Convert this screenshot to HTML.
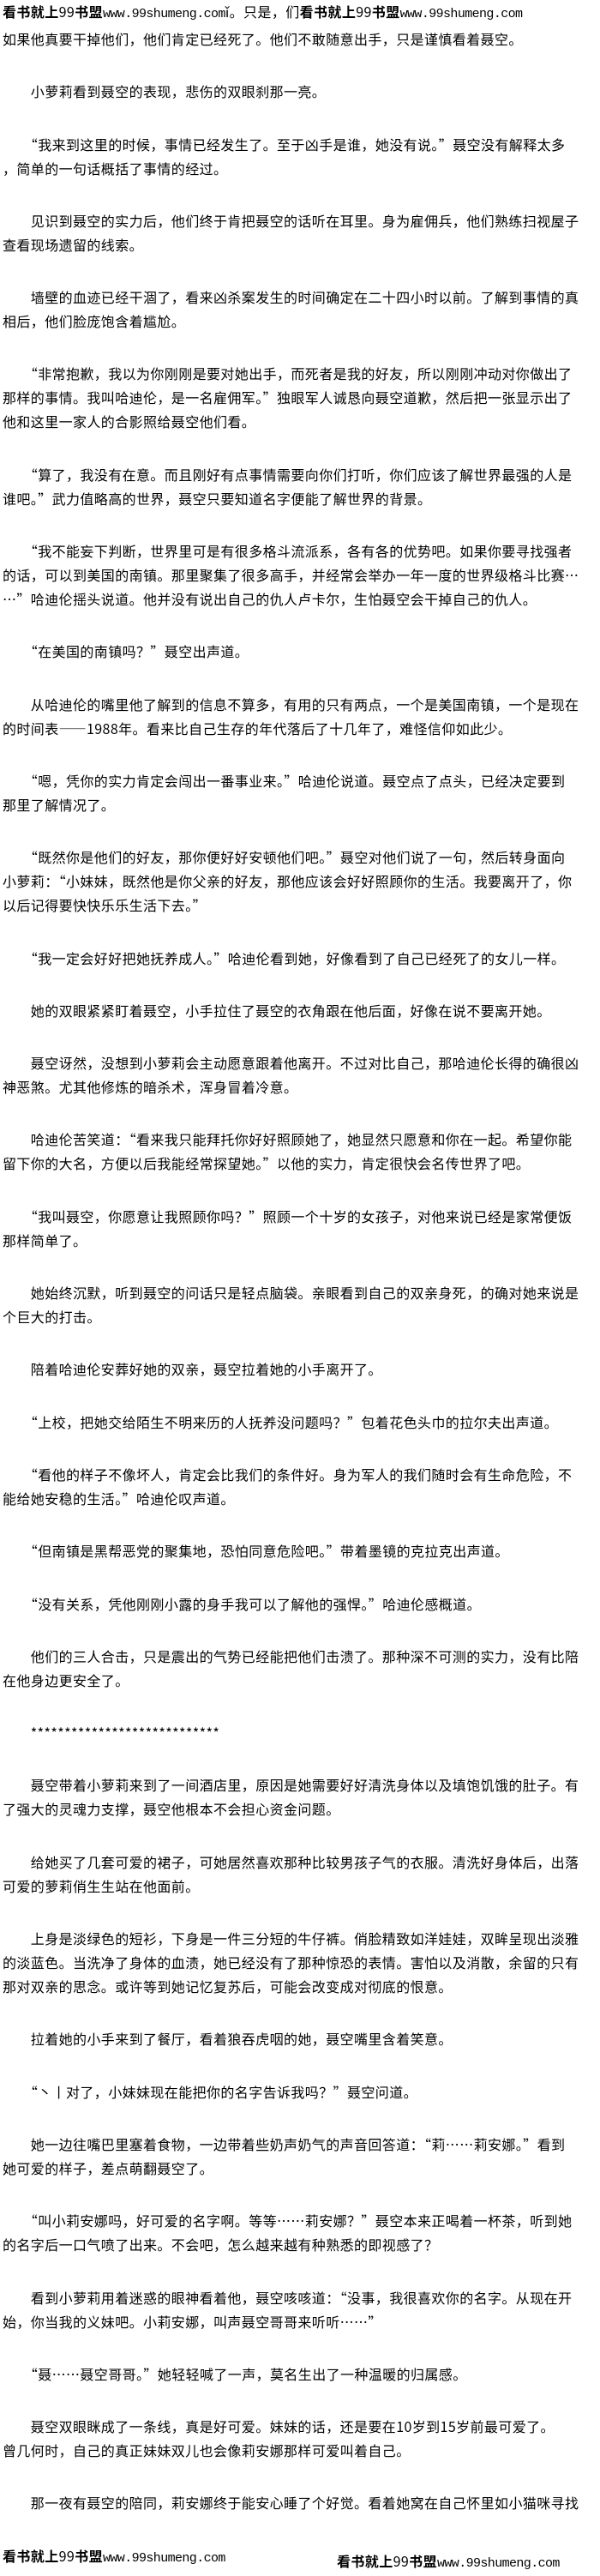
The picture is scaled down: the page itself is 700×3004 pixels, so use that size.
<!DOCTYPE html>
<html lang="zh-CN"><head><meta charset="utf-8">
<style>
html,body{margin:0;padding:0;background:#fff;}
body{width:700px;height:2993px;overflow:hidden;position:relative;color:#000;
font-family:"Noto Sans CJK SC","WenQuanYi Zen Hei","Liberation Sans",sans-serif;font-size:16px;letter-spacing:0.4px;}
#c{position:absolute;left:3px;top:-1px;width:760px;}
p{margin:0 0 33.3px 0;line-height:28px;white-space:nowrap;}
.m{font-family:"Liberation Mono",monospace;font-size:15px;letter-spacing:-0.6px;}
b{font-weight:bold;}
.x{margin-top:33px;}
.ft{position:absolute;top:2966px;white-space:nowrap;line-height:28px;}
</style></head><body>
<div id="c">
<p><b>看书就上</b>99<b>书盟</b><span class="m">www.99shumeng.com</span>ǐ。只是，们<b>看书就上</b>99<b>书盟</b><span class="m">www.99shumeng.com</span><br>如果他真要干掉他们，他们肯定已经死了。他们不敢随意出手，只是谨慎看着聂空。</p>
<p>　　小萝莉看到聂空的表现，悲伤的双眼刹那一亮。</p>
<p>　　“我来到这里的时候，事情已经发生了。至于凶手是谁，她没有说。”聂空没有解释太多<br>，简单的一句话概括了事情的经过。</p>
<p>　　见识到聂空的实力后，他们终于肯把聂空的话听在耳里。身为雇佣兵，他们熟练扫视屋子<br>查看现场遗留的线索。</p>
<p>　　墙壁的血迹已经干涸了，看来凶杀案发生的时间确定在二十四小时以前。了解到事情的真<br>相后，他们脸庞饱含着尴尬。</p>
<p>　　“非常抱歉，我以为你刚刚是要对她出手，而死者是我的好友，所以刚刚冲动对你做出了<br>那样的事情。我叫哈迪伦，是一名雇佣军。”独眼军人诚恳向聂空道歉，然后把一张显示出了<br>他和这里一家人的合影照给聂空他们看。</p>
<p>　　“算了，我没有在意。而且刚好有点事情需要向你们打听，你们应该了解世界最强的人是<br>谁吧。”武力值略高的世界，聂空只要知道名字便能了解世界的背景。</p>
<p>　　“我不能妄下判断，世界里可是有很多格斗流派系，各有各的优势吧。如果你要寻找强者<br>的话，可以到美国的南镇。那里聚集了很多高手，并经常会举办一年一度的世界级格斗比赛…<br>…”哈迪伦摇头说道。他并没有说出自己的仇人卢卡尔，生怕聂空会干掉自己的仇人。</p>
<p>　　“在美国的南镇吗？”聂空出声道。</p>
<p>　　从哈迪伦的嘴里他了解到的信息不算多，有用的只有两点，一个是美国南镇，一个是现在<br>的时间表——1988年。看来比自己生存的年代落后了十几年了，难怪信仰如此少。</p>
<p>　　“嗯，凭你的实力肯定会闯出一番事业来。”哈迪伦说道。聂空点了点头，已经决定要到<br>那里了解情况了。</p>
<p>　　“既然你是他们的好友，那你便好好安顿他们吧。”聂空对他们说了一句，然后转身面向<br>小萝莉：“小妹妹，既然他是你父亲的好友，那他应该会好好照顾你的生活。我要离开了，你<br>以后记得要快快乐乐生活下去。”</p>
<p>　　“我一定会好好把她抚养成人。”哈迪伦看到她，好像看到了自己已经死了的女儿一样。</p>
<p class="x">　　她的双眼紧紧盯着聂空，小手拉住了聂空的衣角跟在他后面，好像在说不要离开她。</p>
<p>　　聂空讶然，没想到小萝莉会主动愿意跟着他离开。不过对比自己，那哈迪伦长得的确很凶<br>神恶煞。尤其他修炼的暗杀术，浑身冒着冷意。</p>
<p>　　哈迪伦苦笑道：“看来我只能拜托你好好照顾她了，她显然只愿意和你在一起。希望你能<br>留下你的大名，方便以后我能经常探望她。”以他的实力，肯定很快会名传世界了吧。</p>
<p>　　“我叫聂空，你愿意让我照顾你吗？”照顾一个十岁的女孩子，对他来说已经是家常便饭<br>那样简单了。</p>
<p>　　她始终沉默，听到聂空的问话只是轻点脑袋。亲眼看到自己的双亲身死，的确对她来说是<br>个巨大的打击。</p>
<p>　　陪着哈迪伦安葬好她的双亲，聂空拉着她的小手离开了。</p>
<p>　　“上校，把她交给陌生不明来历的人抚养没问题吗？”包着花色头巾的拉尔夫出声道。</p>
<p>　　“看他的样子不像坏人，肯定会比我们的条件好。身为军人的我们随时会有生命危险，不<br>能给她安稳的生活。”哈迪伦叹声道。</p>
<p>　　“但南镇是黑帮恶党的聚集地，恐怕同意危险吧。”带着墨镜的克拉克出声道。</p>
<p>　　“没有关系，凭他刚刚小露的身手我可以了解他的强悍。”哈迪伦感概道。</p>
<p>　　他们的三人合击，只是震出的气势已经能把他们击溃了。那种深不可测的实力，没有比陪<br>在他身边更安全了。</p>
<p>　　****************************</p>
<p>　　聂空带着小萝莉来到了一间酒店里，原因是她需要好好清洗身体以及填饱饥饿的肚子。有<br>了强大的灵魂力支撑，聂空他根本不会担心资金问题。</p>
<p>　　给她买了几套可爱的裙子，可她居然喜欢那种比较男孩子气的衣服。清洗好身体后，出落<br>可爱的萝莉俏生生站在他面前。</p>
<p>　　上身是淡绿色的短衫，下身是一件三分短的牛仔裤。俏脸精致如洋娃娃，双眸呈现出淡雅<br>的淡蓝色。当洗净了身体的血渍，她已经没有了那种惊恐的表情。害怕以及消散，余留的只有<br>那对双亲的思念。或许等到她记忆复苏后，可能会改变成对彻底的恨意。</p>
<p>　　拉着她的小手来到了餐厅，看着狼吞虎咽的她，聂空嘴里含着笑意。</p>
<p>　　“丶丨对了，小妹妹现在能把你的名字告诉我吗？”聂空问道。</p>
<p>　　她一边往嘴巴里塞着食物，一边带着些奶声奶气的声音回答道：“莉……莉安娜。”看到<br>她可爱的样子，差点萌翻聂空了。</p>
<p>　　“叫小莉安娜吗，好可爱的名字啊。等等……莉安娜？”聂空本来正喝着一杯茶，听到她<br>的名字后一口气喷了出来。不会吧，怎么越来越有种熟悉的即视感了？</p>
<p>　　看到小萝莉用着迷惑的眼神看着他，聂空咳咳道：“没事，我很喜欢你的名字。从现在开<br>始，你当我的义妹吧。小莉安娜，叫声聂空哥哥来听听……”</p>
<p>　　“聂……聂空哥哥。”她轻轻喊了一声，莫名生出了一种温暖的归属感。</p>
<p>　　聂空双眼眯成了一条线，真是好可爱。妹妹的话，还是要在10岁到15岁前最可爱了。<br>曾几何时，自己的真正妹妹双儿也会像莉安娜那样可爱叫着自己。</p>
<p>　　那一夜有聂空的陪同，莉安娜终于能安心睡了个好觉。看着她窝在自己怀里如小猫咪寻找</p>
</div>
<div class="ft" style="left:3px;"><b>看书就上</b>99<b>书盟</b><span class="m">www.99shumeng.com</span></div>
<div class="ft" style="left:393px;top:2972px;"><b>看书就上</b>99<b>书盟</b><span class="m">www.99shumeng.com</span></div>
</body></html>
